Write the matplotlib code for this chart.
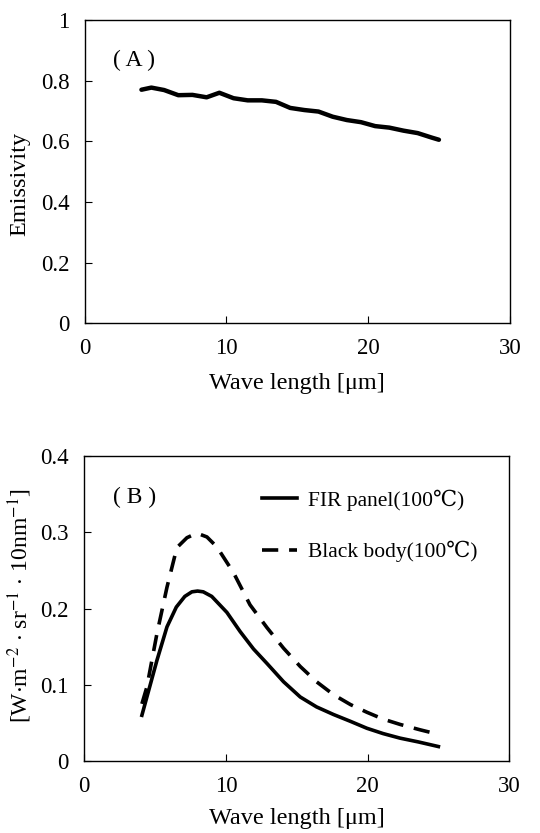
import numpy as np
import matplotlib.pyplot as plt

plt.rcParams['font.family'] = ['Liberation Serif', 'DejaVu Serif']
plt.rcParams['mathtext.fontset'] = 'stix'

# panel A: emissivity of the FIR panel
wl_a = [4.0, 4.7, 5.6, 6.6, 7.6, 8.6, 9.5, 10.5, 11.5, 12.5, 13.5, 14.5, 15.5,
        16.5, 17.5, 18.5, 19.5, 20.5, 21.5, 22.5, 23.5, 24.5, 25.0]
emis = [0.770, 0.777, 0.769, 0.752, 0.753, 0.745, 0.760, 0.742, 0.735, 0.735,
        0.730, 0.710, 0.703, 0.698, 0.681, 0.670, 0.663, 0.650, 0.645, 0.635,
        0.627, 0.612, 0.605]

# panel B: spectral radiance
wl_fir = [4.07, 5.13, 5.84, 6.5, 7.1, 7.6, 8.0, 8.4, 9.0, 10.07, 11.0, 11.95,
          12.9, 14.07, 15.25, 16.4, 17.6, 18.8, 19.95, 21.1, 22.3, 23.6, 25.0]
fir = [0.060, 0.132, 0.176, 0.202, 0.216, 0.222, 0.223, 0.222, 0.216, 0.195,
       0.170, 0.147, 0.128, 0.104, 0.084, 0.071, 0.061, 0.052, 0.043, 0.036,
       0.030, 0.025, 0.019]

wl_bb = [4.07, 4.42, 5.13, 5.84, 6.54, 7.25, 7.95, 8.66, 9.36, 10.54, 11.7,
         12.9, 14.07, 15.25, 16.4, 17.6, 18.8, 19.95, 21.1, 22.3, 23.7, 25.0]
bb = [0.075, 0.097, 0.167, 0.228, 0.280, 0.293, 0.299, 0.294, 0.281, 0.247,
      0.205, 0.175, 0.148, 0.124, 0.104, 0.087, 0.074, 0.064, 0.055, 0.048,
      0.041, 0.035]

tfs = 16.5
lfs = 17.5

fig = plt.figure(figsize=(5.4, 8.33), dpi=100)
ax1 = fig.add_axes([0.157, 0.612, 0.787, 0.364])
ax2 = fig.add_axes([0.156, 0.0864, 0.787, 0.366])

for ax in (ax1, ax2):
    ax.tick_params(direction='in', length=5, labelsize=tfs, pad=11)
    ax.set_xlim(0, 30)
    ax.set_xticks([0, 10, 20, 30])
    ax.set_xlabel('Wave length [μm]', fontsize=lfs)
    ax.xaxis.label.set_va('center')
    for s in ax.spines.values():
        s.set_linewidth(1.0)

ax1.plot(wl_a, emis, color='black', lw=3.2, solid_capstyle='round')
ax1.set_ylim(0, 1)
ax1.set_yticks([0, 0.2, 0.4, 0.6, 0.8, 1])
ax1.set_yticklabels(['0', '0.2', '0.4', '0.6', '0.8', '1'])
ax1.set_ylabel('Emissivity', fontsize=lfs)
ax1.yaxis.label.set_va('center')
ax1.yaxis.set_label_coords(-0.152, 0.46)
ax1.xaxis.set_label_coords(0.5, -0.2)
ax1.text(0.066, 0.868, '( A )', transform=ax1.transAxes, fontsize=17,
         va='center')

ax2.plot(wl_fir, fir, color='black', lw=2.6, label='FIR panel(100℃)')
ax2.plot(wl_bb, bb, color='black', lw=2.6, dashes=(4.5, 3),
         label='Black body(100℃)')
ax2.set_ylim(0, 0.4)
ax2.set_yticks([0, 0.1, 0.2, 0.3, 0.4])
ax2.set_yticklabels(['0', '0.1', '0.2', '0.3', '0.4'])
ax2.set_ylabel(r'[W$\cdot$m$^{-2}$ $\cdot$ sr$^{-1}$ $\cdot$ 10nm$^{-1}$]',
               fontsize=17)
ax2.yaxis.label.set_va('center')
ax2.yaxis.set_label_coords(-0.152, 0.51)
ax2.xaxis.set_label_coords(0.5, -0.19)
ax2.text(0.068, 0.866, '( B )', transform=ax2.transAxes, fontsize=17,
         va='center')
ax2.legend(loc='upper left', bbox_to_anchor=(0.419, 0.89), frameon=False,
           fontsize=15.5, handlelength=1.6, labelspacing=1.4,
           handletextpad=0.5, borderpad=0, borderaxespad=0)

fig.savefig('out.png', dpi=100)
